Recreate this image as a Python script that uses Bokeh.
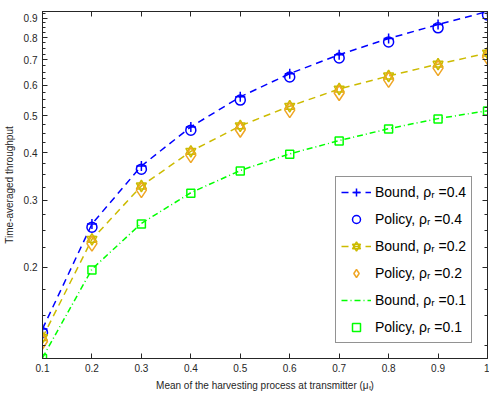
from bokeh.plotting import figure
from bokeh.models import (Range1d, FixedTicker, NumeralTickFormatter, Legend,
                          LegendItem, LinearAxis, LogAxis)
from bokeh.embed import file_html
from bokeh.resources import INLINE

# ---------------- data ----------------
mu = [0.1, 0.2, 0.3, 0.4, 0.5, 0.6, 0.7, 0.8, 0.9, 1.0]
bound_04 = [0.138, 0.260, 0.369, 0.467, 0.560, 0.644, 0.722, 0.796, 0.866, 0.937]
policy_04 = [0.135, 0.255, 0.362, 0.458, 0.549, 0.631, 0.708, 0.780, 0.849, 0.918]
bound_02 = [0.131, 0.237, 0.327, 0.403, 0.470, 0.529, 0.587, 0.635, 0.682, 0.729]
policy_02 = [0.128, 0.231, 0.319, 0.394, 0.459, 0.517, 0.573, 0.620, 0.666, 0.712]
bound_01 = [0.116, 0.198, 0.261, 0.314, 0.359, 0.397, 0.430, 0.462, 0.491, 0.515]
policy_01 = [0.1155, 0.197, 0.260, 0.313, 0.358, 0.396, 0.429, 0.461, 0.490, 0.514]

x_ticks = [0.1, 0.2, 0.3, 0.4, 0.5, 0.6, 0.7, 0.8, 0.9, 1.0]
y_ticks = [0.2, 0.3, 0.4, 0.5, 0.6, 0.7, 0.8, 0.9]
y_minor = [v / 1000 for v in range(125, 950, 25) if v % 100 != 0]

labels = ["Bound, ρᵣ =0.4", "Policy, ρᵣ =0.4", "Bound, ρᵣ =0.2",
          "Policy, ρᵣ =0.2", "Bound, ρᵣ =0.1", "Policy, ρᵣ =0.1"]
x_label = "Mean of the harvesting process at transmitter (μₜ)"
y_label = "Time-averaged throughput"

# ---------------- style ----------------
FONT = "Liberation Sans"
TXT = "#262626"
BLUE = "#0000FF"
OLIVE = "#CCBB00"
ORANGE = "#EFA625"
GREEN = "#00FF00"

ymin = min(policy_01 + bound_01)
ymax = max(bound_04 + policy_04)

p = figure(width=489, height=394, x_range=Range1d(0.1, 1.0),
           y_range=Range1d(ymin, ymax), y_axis_type="log",
           output_backend="svg", toolbar_location=None,
           min_border_left=40, min_border_right=2, min_border_top=11,
           min_border_bottom=36)
p.xgrid.visible = False
p.ygrid.visible = False
p.outline_line_color = TXT
p.outline_line_width = 1
p.background_fill_color = "white"
p.border_fill_color = "white"

xticker = FixedTicker(ticks=x_ticks, minor_ticks=[])
yticker = FixedTicker(ticks=y_ticks, minor_ticks=y_minor)


def style(ax, show_labels=True):
    ax.axis_line_color = TXT
    ax.axis_line_width = 1
    ax.major_tick_line_color = TXT
    ax.minor_tick_line_color = TXT
    ax.major_tick_in = 5
    ax.major_tick_out = 0
    ax.minor_tick_in = 3
    ax.minor_tick_out = 0
    ax.major_label_text_font = FONT
    ax.major_label_text_font_size = "10px"
    ax.major_label_text_color = TXT
    ax.major_label_standoff = 5
    ax.axis_label_text_font = FONT
    ax.axis_label_text_font_size = "10px"
    ax.axis_label_text_font_style = "normal"
    ax.axis_label_text_color = TXT
    if not show_labels:
        ax.major_label_text_color = None
        ax.major_label_text_font_size = "0px"
        ax.major_label_standoff = 0


xa = p.xaxis[0]
xa.ticker = xticker
xa.formatter = NumeralTickFormatter(format="0.[0]")
xa.axis_label = x_label
style(xa)
xa.axis_label_standoff = 5

ya = p.yaxis[0]
ya.ticker = yticker
ya.formatter = NumeralTickFormatter(format="0.[0]")
ya.axis_label = y_label
style(ya)
ya.axis_label_standoff = 6

top = LinearAxis(ticker=xticker, formatter=NumeralTickFormatter(format="0.[0]"))
style(top, False)
p.add_layout(top, "above")
right = LogAxis(ticker=yticker, formatter=NumeralTickFormatter(format="0.[0]"))
style(right, False)
p.add_layout(right, "right")

# ---------------- series ----------------
LW = 1.5
b4_line = p.line(mu, bound_04, line_color=BLUE, line_width=LW, line_dash="7 5")
b4_mk = p.scatter(mu, bound_04, marker="cross", size=10, line_color=BLUE, line_width=LW)
p4_mk = p.scatter(mu, policy_04, marker="circle", size=10, fill_color=None,
                  line_color=BLUE, line_width=LW)

b2_line = p.line(mu, bound_02, line_color=OLIVE, line_width=LW, line_dash="7 5")
b2_mk1 = p.scatter(mu, bound_02, marker="triangle", size=10, fill_color=None,
                   line_color=OLIVE, line_width=LW)
b2_mk2 = p.scatter(mu, bound_02, marker="inverted_triangle", size=10, fill_color=None,
                   line_color=OLIVE, line_width=LW)
p2_mk = p.scatter(mu, policy_02, marker="diamond", size=15, fill_color=None,
                  line_color=ORANGE, line_width=LW)

b1_line = p.line(mu, bound_01, line_color=GREEN, line_width=LW, line_dash="6 3 1 3")
p1_mk = p.scatter(mu, policy_01, marker="square", size=8, fill_color=None,
                  line_color=GREEN, line_width=LW)

items = [
    LegendItem(label=labels[0], renderers=[b4_line, b4_mk]),
    LegendItem(label=labels[1], renderers=[p4_mk]),
    LegendItem(label=labels[2], renderers=[b2_line, b2_mk1, b2_mk2]),
    LegendItem(label=labels[3], renderers=[p2_mk]),
    LegendItem(label=labels[4], renderers=[b1_line]),
    LegendItem(label=labels[5], renderers=[p1_mk]),
]
legend = Legend(items=items, location=(293, 15))
legend.label_text_font = FONT
legend.label_text_font_size = "14px"
legend.label_text_color = "black"
legend.border_line_color = TXT
legend.border_line_width = 1
legend.background_fill_color = "white"
legend.background_fill_alpha = 1
legend.padding = 5
legend.spacing = 7
legend.margin = 0
legend.glyph_width = 30
legend.glyph_height = 20
legend.label_height = 20
legend.label_standoff = 4
p.add_layout(legend)

open("out.html", "w").write(file_html(p, INLINE))
